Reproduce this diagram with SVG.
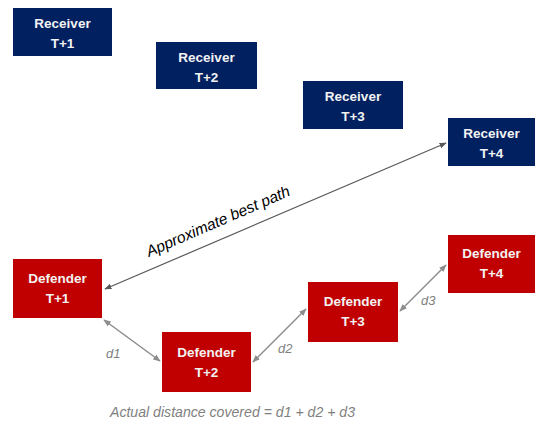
<svg xmlns="http://www.w3.org/2000/svg" width="536" height="427" viewBox="0 0 536 427">
<defs>
<marker id="ah" viewBox="0 0 10 10" refX="9" refY="5" markerWidth="6" markerHeight="6" orient="auto-start-reverse">
<path d="M0,1 L10,5 L0,9 Z" fill="#595959"/>
</marker>
<marker id="ahg" viewBox="0 0 10 10" refX="9" refY="5" markerWidth="5" markerHeight="5" orient="auto-start-reverse">
<path d="M0,1 L10,5 L0,9 Z" fill="#8c8c8c"/>
</marker>
<style>
.rec{fill:#002060}
.def{fill:#C00000}
.lbl{font-family:"Liberation Sans",Arial,sans-serif;font-size:13.5px;font-weight:bold;fill:#f2f2f2;text-anchor:middle}
.best{stroke:#595959;stroke-width:1.2;fill:none}
.dist{stroke:#8c8c8c;stroke-width:1.5;fill:none}
.it{font-family:"Liberation Sans",Arial,sans-serif;font-style:italic;font-size:13px;fill:#7f7f7f}
.bp{font-family:"Liberation Sans",Arial,sans-serif;font-style:italic;font-size:15.5px;fill:#000000}
</style>
</defs>
<rect width="536" height="427" fill="#ffffff"/>
<g id="connectors">
<line class="best" x1="446" y1="143" x2="105" y2="289" marker-start="url(#ah)" marker-end="url(#ah)"/>
<line class="dist" x1="104" y1="320" x2="160" y2="361" marker-start="url(#ahg)" marker-end="url(#ahg)"/>
<line class="dist" x1="253" y1="362" x2="306" y2="309" marker-start="url(#ahg)" marker-end="url(#ahg)"/>
<line class="dist" x1="400" y1="311" x2="446" y2="265" marker-start="url(#ahg)" marker-end="url(#ahg)"/>
<text class="bp" transform="translate(149,257) rotate(-23.5)">Approximate best path</text>
<text class="it" x="106" y="358">d1</text>
<text class="it" x="278" y="353">d2</text>
<text class="it" x="421" y="305">d3</text>
</g>
<g id="receiver1"><rect class="rec" x="13" y="8" width="99" height="48"/><text class="lbl" x="62.5" y="28">Receiver</text><text class="lbl" x="62.5" y="48">T+1</text></g>
<g id="receiver2"><rect class="rec" x="156" y="42" width="101" height="47"/><text class="lbl" x="206.5" y="62">Receiver</text><text class="lbl" x="206.5" y="82">T+2</text></g>
<g id="receiver3"><rect class="rec" x="303" y="81" width="100" height="48"/><text class="lbl" x="353" y="101">Receiver</text><text class="lbl" x="353" y="121">T+3</text></g>
<g id="receiver4"><rect class="rec" x="448" y="118" width="87" height="48"/><text class="lbl" x="491.5" y="138">Receiver</text><text class="lbl" x="491.5" y="158">T+4</text></g>
<g id="defender1"><rect class="def" x="13" y="259" width="89" height="59"/><text class="lbl" x="57.5" y="283">Defender</text><text class="lbl" x="57.5" y="303">T+1</text></g>
<g id="defender2"><rect class="def" x="162" y="332" width="89" height="60"/><text class="lbl" x="206.5" y="357">Defender</text><text class="lbl" x="206.5" y="377">T+2</text></g>
<g id="defender3"><rect class="def" x="308" y="282" width="90" height="60"/><text class="lbl" x="353" y="306">Defender</text><text class="lbl" x="353" y="326">T+3</text></g>
<g id="defender4"><rect class="def" x="448" y="235" width="87" height="58"/><text class="lbl" x="491.5" y="258">Defender</text><text class="lbl" x="491.5" y="278">T+4</text></g>
<text class="it" x="110" y="417" style="font-size:14.5px" textLength="245" lengthAdjust="spacingAndGlyphs">Actual distance covered = d1 + d2 + d3</text>
</svg>
